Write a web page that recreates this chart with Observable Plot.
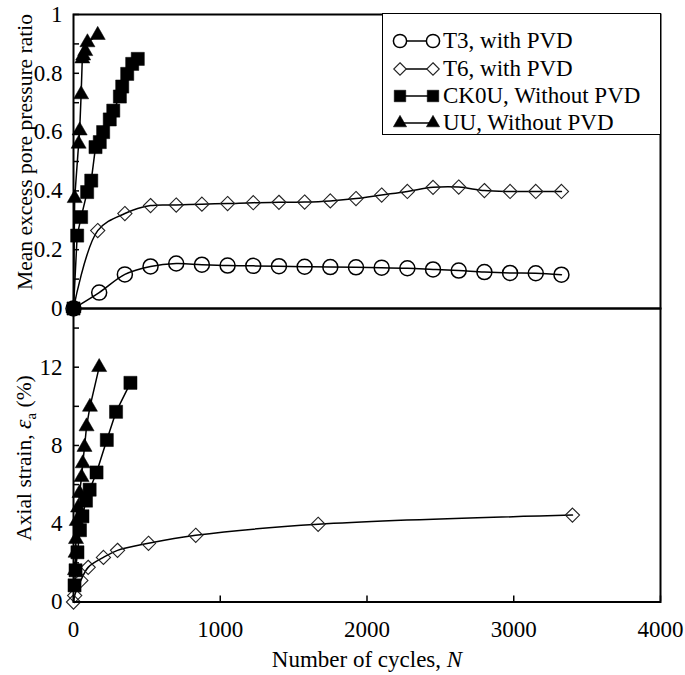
<!DOCTYPE html>
<html><head><meta charset="utf-8">
<script src="https://cdn.jsdelivr.net/npm/d3@7"></script>
<script src="https://cdn.jsdelivr.net/npm/@observablehq/plot@0.6"></script>
<style>
body{margin:0;background:#fff;}
#wrap{position:relative;width:685px;height:675px;font-family:"Liberation Serif","Times New Roman",serif;color:#000;overflow:hidden;}
#top,#bot{position:absolute;left:0;}
#top{top:0;} #bot{top:296px;}
.ylab{position:absolute;transform:translate(-50%,-50%) rotate(-90deg);white-space:nowrap;font-size:21.5px;}
.xlab{position:absolute;transform:translate(-50%,-50%);white-space:nowrap;font-size:23px;}
#legend{position:absolute;left:382px;top:13px;width:277px;height:120px;border:1.5px solid #000;background:#fff;font-size:23px;}
.row{position:absolute;left:0;height:28px;display:flex;align-items:center;}
.row svg{display:block;}
</style></head>
<body><div id="wrap">
<div id="top"></div><div id="bot"></div>
<div class="ylab" style="left:25px;top:152px;">Mean excess pore pressure ratio</div>
<div class="ylab" style="left:25px;top:458px;">Axial strain, <i style="font-size:24px;">ε</i><sub style="font-size:15px;">a</sub> (%)</div>
<div class="xlab" style="left:367px;top:660px;">Number of cycles, <i>N</i></div>
<div id="legend"></div>
</div>
<script>
// ---- axis ticks ----
const xTicks = [0, 1000, 2000, 3000, 4000];
const topMajor = [0, 0.2, 0.4, 0.6, 0.8, 1];
const topMinor = [0.1, 0.3, 0.5, 0.7, 0.9];
const botMajor = [0, 4, 8, 12];
const botMinor = [2, 6, 10, 14];

// ---- series names ----
const seriesNames = ["T3, with PVD", "T6, with PVD", "CK0U, Without PVD", "UU, Without PVD"];

// ---- top panel: mean excess pore pressure ratio ----
const T3_N = [0, 175, 350, 525, 700, 875, 1050, 1225, 1400, 1575, 1750, 1925, 2100, 2275, 2450, 2625, 2800, 2975, 3150, 3325];
const T3_ratio = [0, 0.054, 0.116, 0.143, 0.153, 0.149, 0.146, 0.145, 0.144, 0.142, 0.141, 0.140, 0.139, 0.137, 0.133, 0.129, 0.124, 0.121, 0.120, 0.115];

const T6_N = [0, 165, 350, 525, 700, 875, 1050, 1225, 1400, 1575, 1750, 1925, 2100, 2275, 2450, 2625, 2800, 2975, 3150, 3325];
const T6_ratio = [0, 0.265, 0.323, 0.350, 0.352, 0.355, 0.357, 0.360, 0.361, 0.362, 0.366, 0.374, 0.386, 0.398, 0.412, 0.413, 0.401, 0.398, 0.398, 0.398];

const CK0U_N = [0, 25, 52, 93, 121, 150, 179, 202, 247, 271, 316, 332, 366, 400, 438];
const CK0U_ratio = [0, 0.248, 0.311, 0.396, 0.435, 0.549, 0.566, 0.600, 0.643, 0.673, 0.721, 0.755, 0.798, 0.832, 0.849];

const UU_N = [0, 8, 35, 42, 52, 60, 66, 80, 95, 165];
const UU_ratio = [0, 0.375, 0.560, 0.605, 0.728, 0.850, 0.860, 0.875, 0.905, 0.930];

// ---- bottom panel: axial strain (%) ----
const T6s_N = [0, 8, 50, 100, 204, 300, 511, 833, 1667, 3400];
const T6s_strain = [0, 0.33, 1.1, 1.77, 2.28, 2.64, 3.0, 3.41, 3.97, 4.44];

const CK0Us_N = [7, 14, 27, 44, 61, 85, 110, 157, 227, 290, 388];
const CK0Us_strain = [0.85, 1.62, 2.54, 3.67, 4.38, 5.18, 5.74, 6.62, 8.28, 9.72, 11.2];

const UUs_N = [10, 14, 17, 22, 31, 41, 55, 63, 75, 89, 112, 175];
const UUs_strain = [1.62, 2.51, 3.21, 4.13, 4.82, 5.56, 6.38, 7.08, 7.92, 8.97, 9.97, 12.0];

// ---- helpers ----
const rows = (N, v) => N.map((n, i) => ({N: n, v: v[i]}));
const font = {fontFamily: '"Liberation Serif","Times New Roman",serif', fontSize: "23px", color: "#000", background: "transparent", overflow: "visible"};
const sty = {
  T3: {symbol: "circle", r: 7.5, fill: "none", stroke: "#000", strokeWidth: 1.5},
  T6: {symbol: "diamond2", r: 6.4, fill: "none", stroke: "#222", strokeWidth: 1.1},
  CK: {symbol: "square", r: 7.4, fill: "#000", stroke: "#000", strokeWidth: 0.5},
  UU: {symbol: "triangle", r: 5.6, fill: "#000", stroke: "#000", strokeWidth: 0.5}
};
function seriesMarks(data, s, curve) {
  return [
    Plot.line(data, {x: "N", y: "v", stroke: "#000", strokeWidth: 1.5, curve}),
    Plot.dot(data, {x: "N", y: "v", ...s})
  ];
}
const fmtTop = d => d === 0 ? "0" : d === 1 ? "1" : d.toFixed(1);

const topPlot = Plot.plot({
  width: 685, height: 310,
  marginLeft: 73, marginRight: 25, marginTop: 14, marginBottom: 2,
  x: {domain: [0, 4000], axis: null},
  y: {domain: [0, 1]},
  style: font,
  marks: [
    Plot.axisY(topMajor, {tickSize: -6, tickPadding: 17, tickFormat: fmtTop, label: null, strokeWidth: 1.5}),
    Plot.axisY(topMinor, {tickSize: -6, tickFormat: () => "", label: null, strokeWidth: 1.5}),
    ...seriesMarks(rows(T3_N, T3_ratio), sty.T3, "catmull-rom"),
    ...seriesMarks(rows(T6_N, T6_ratio), sty.T6, "catmull-rom"),
    ...seriesMarks(rows(CK0U_N, CK0U_ratio), sty.CK, "linear"),
    ...seriesMarks(rows(UU_N, UU_ratio), sty.UU, "linear"),
    Plot.frame({stroke: "#000", strokeWidth: 2})
  ]
});
document.getElementById("top").appendChild(topPlot);

const botPlot = Plot.plot({
  width: 685, height: 379,
  marginLeft: 73, marginRight: 25, marginTop: 12, marginBottom: 73.5,
  x: {domain: [0, 4000]},
  y: {domain: [0, 15]},
  style: font,
  marks: [
    Plot.axisY(botMajor, {tickSize: -6, tickPadding: 17, label: null, strokeWidth: 1.5}),
    Plot.axisY(botMinor, {tickSize: -6, tickFormat: () => "", label: null, strokeWidth: 1.5}),
    Plot.axisX(xTicks, {tickSize: -6, tickPadding: 25, label: null, strokeWidth: 1.5, tickFormat: d => String(d)}),
    ...seriesMarks(rows(T6s_N, T6s_strain), sty.T6, "catmull-rom"),
    ...seriesMarks(rows(CK0Us_N, CK0Us_strain), sty.CK, "linear"),
    ...seriesMarks(rows(UUs_N, UUs_strain), sty.UU, "linear"),
    Plot.frame({stroke: "#000", strokeWidth: 2})
  ]
});
document.getElementById("bot").appendChild(botPlot);

// ---- legend ----
const legendStyles = [sty.T3, sty.T6, sty.CK, sty.UU];
const symMap = {circle: d3.symbolCircle, diamond2: d3.symbolDiamond2, square: d3.symbolSquare, triangle: d3.symbolTriangle};
const leg = d3.select("#legend");
const rowTops = [13, 41, 68, 95];
seriesNames.forEach((name, i) => {
  const s = legendStyles[i];
  const row = leg.append("div").attr("class", "row").style("top", rowTops[i] + "px");
  const svg = row.append("svg").attr("width", 60).attr("height", 28);
  svg.append("line").attr("x1", 17).attr("x2", 50).attr("y1", 14).attr("y2", 14).attr("stroke", "#000").attr("stroke-width", 1.5);
  const rr = s.r * 0.88;
  const path = d3.symbol(symMap[s.symbol], Math.PI * rr * rr)();
  [17, 50].forEach(cx => {
    svg.append("path").attr("d", path).attr("transform", `translate(${cx},14)`)
      .attr("fill", s.fill === "none" ? "#fff" : s.fill).attr("stroke", s.stroke).attr("stroke-width", s.strokeWidth);
  });
  row.append("span").text(name);
});
</script>
</body></html>
